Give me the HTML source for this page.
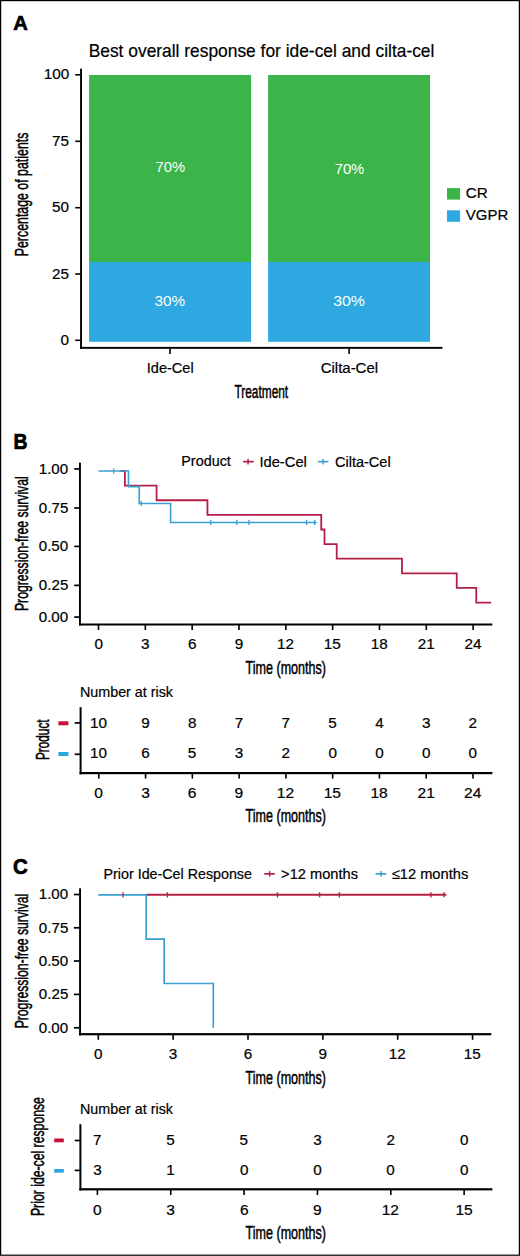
<!DOCTYPE html>
<html><head><meta charset="utf-8"><title>Figure</title><style>
html,body{margin:0;padding:0;background:#fff;width:520px;height:1256px;overflow:hidden}
svg{display:block}
text{font-family:"Liberation Sans",sans-serif}
</style></head><body>
<svg width="520" height="1256" viewBox="0 0 520 1256">
<rect x="0" y="0" width="520" height="1256" fill="#fff"/>
<rect x="0.6" y="0.6" width="518.8" height="1254.6" fill="none" stroke="#000" stroke-width="1.2"/>
<rect x="75.20" y="74.00" width="5.30" height="1.60" fill="#000"/>
<rect x="75.20" y="140.50" width="5.30" height="1.60" fill="#000"/>
<rect x="75.20" y="206.90" width="5.30" height="1.60" fill="#000"/>
<rect x="75.20" y="273.20" width="5.30" height="1.60" fill="#000"/>
<rect x="75.20" y="339.50" width="5.30" height="1.60" fill="#000"/>
<rect x="80.10" y="68.70" width="1.90" height="280.10" fill="#000"/>
<rect x="80.10" y="346.90" width="362.40" height="1.90" fill="#000"/>
<rect x="169.20" y="348.50" width="1.60" height="5.50" fill="#000"/>
<rect x="348.30" y="348.50" width="1.60" height="5.50" fill="#000"/>
<rect x="89.10" y="75.00" width="162.00" height="187.00" fill="#3BB54A"/>
<rect x="89.10" y="262.00" width="162.00" height="79.80" fill="#2DA8E0"/>
<rect x="268.10" y="75.00" width="161.90" height="187.00" fill="#3BB54A"/>
<rect x="268.10" y="262.00" width="161.90" height="79.80" fill="#2DA8E0"/>
<rect x="447.00" y="188.10" width="13.10" height="11.50" fill="#3BB54A"/>
<rect x="447.00" y="210.30" width="13.10" height="11.50" fill="#2DA8E0"/>
<rect x="243.10" y="460.80" width="10.60" height="1.70" fill="#B41F45"/>
<rect x="247.30" y="458.90" width="1.50" height="5.50" fill="#B41F45"/>
<rect x="317.80" y="460.80" width="10.60" height="1.70" fill="#3A9FD2"/>
<rect x="322.30" y="458.90" width="1.50" height="5.50" fill="#3A9FD2"/>
<rect x="74.20" y="468.05" width="5.30" height="1.70" fill="#000"/>
<rect x="74.20" y="507.15" width="5.30" height="1.70" fill="#000"/>
<rect x="74.20" y="545.55" width="5.30" height="1.70" fill="#000"/>
<rect x="74.20" y="584.55" width="5.30" height="1.70" fill="#000"/>
<rect x="74.20" y="616.25" width="5.30" height="1.70" fill="#000"/>
<rect x="79.00" y="462.60" width="1.90" height="162.90" fill="#000"/>
<rect x="79.00" y="623.50" width="413.30" height="2.00" fill="#000"/>
<rect x="97.70" y="625.00" width="1.60" height="5.00" fill="#000"/>
<rect x="144.53" y="625.00" width="1.60" height="5.00" fill="#000"/>
<rect x="191.36" y="625.00" width="1.60" height="5.00" fill="#000"/>
<rect x="238.19" y="625.00" width="1.60" height="5.00" fill="#000"/>
<rect x="285.02" y="625.00" width="1.60" height="5.00" fill="#000"/>
<rect x="331.85" y="625.00" width="1.60" height="5.00" fill="#000"/>
<rect x="378.68" y="625.00" width="1.60" height="5.00" fill="#000"/>
<rect x="425.51" y="625.00" width="1.60" height="5.00" fill="#000"/>
<rect x="472.34" y="625.00" width="1.60" height="5.00" fill="#000"/>
<path d="M120.35,471.00 H124.88 V485.62 H156.57 V500.24 H207.46 V514.86 H321.25 V529.48 H324.53 V544.10 H336.71 V558.72 H401.96 V573.34 H456.75 V587.96 H476.26 V602.58 H491.09" fill="none" stroke="#B41F45" stroke-width="1.8" />
<path d="M98.50,471.00 H128.47 V486.64 H139.24 V503.46 H170.62 V522.46 H316.57" fill="none" stroke="#3A9FD2" stroke-width="1.6" />
<rect x="112.99" y="468.40" width="1.30" height="5.20" fill="#3A9FD2"/>
<rect x="140.62" y="500.86" width="1.30" height="5.20" fill="#3A9FD2"/>
<rect x="210.09" y="519.86" width="1.30" height="5.20" fill="#3A9FD2"/>
<rect x="236.15" y="519.86" width="1.30" height="5.20" fill="#3A9FD2"/>
<rect x="248.33" y="519.86" width="1.30" height="5.20" fill="#3A9FD2"/>
<rect x="305.93" y="519.86" width="1.30" height="5.20" fill="#3A9FD2"/>
<rect x="314.05" y="519.86" width="1.30" height="5.20" fill="#3A9FD2"/>
<rect x="79.60" y="707.20" width="2.00" height="67.20" fill="#000"/>
<rect x="79.60" y="772.00" width="412.80" height="2.20" fill="#000"/>
<rect x="74.70" y="722.05" width="5.30" height="1.70" fill="#000"/>
<rect x="74.70" y="753.45" width="5.30" height="1.70" fill="#000"/>
<rect x="58.40" y="721.30" width="10.00" height="4.00" fill="#C8103C"/>
<rect x="58.40" y="752.00" width="10.00" height="4.00" fill="#2AA6DE"/>
<rect x="98.00" y="773.50" width="1.60" height="5.10" fill="#000"/>
<rect x="144.77" y="773.50" width="1.60" height="5.10" fill="#000"/>
<rect x="191.54" y="773.50" width="1.60" height="5.10" fill="#000"/>
<rect x="238.31" y="773.50" width="1.60" height="5.10" fill="#000"/>
<rect x="285.08" y="773.50" width="1.60" height="5.10" fill="#000"/>
<rect x="331.85" y="773.50" width="1.60" height="5.10" fill="#000"/>
<rect x="378.62" y="773.50" width="1.60" height="5.10" fill="#000"/>
<rect x="425.39" y="773.50" width="1.60" height="5.10" fill="#000"/>
<rect x="472.16" y="773.50" width="1.60" height="5.10" fill="#000"/>
<rect x="264.20" y="873.00" width="10.60" height="1.70" fill="#B41F45"/>
<rect x="268.90" y="871.10" width="1.50" height="5.50" fill="#B41F45"/>
<rect x="375.50" y="873.00" width="10.80" height="1.70" fill="#3A9FD2"/>
<rect x="380.30" y="871.10" width="1.50" height="5.50" fill="#3A9FD2"/>
<rect x="73.90" y="893.65" width="5.40" height="1.70" fill="#000"/>
<rect x="73.90" y="926.95" width="5.40" height="1.70" fill="#000"/>
<rect x="73.90" y="960.15" width="5.40" height="1.70" fill="#000"/>
<rect x="73.90" y="993.55" width="5.40" height="1.70" fill="#000"/>
<rect x="73.90" y="1026.95" width="5.40" height="1.70" fill="#000"/>
<rect x="79.10" y="888.30" width="1.90" height="147.10" fill="#000"/>
<rect x="79.10" y="1033.10" width="412.20" height="2.20" fill="#000"/>
<rect x="97.50" y="1035.00" width="1.60" height="4.80" fill="#000"/>
<rect x="172.35" y="1035.00" width="1.60" height="4.80" fill="#000"/>
<rect x="247.20" y="1035.00" width="1.60" height="4.80" fill="#000"/>
<rect x="322.05" y="1035.00" width="1.60" height="4.80" fill="#000"/>
<rect x="396.90" y="1035.00" width="1.60" height="4.80" fill="#000"/>
<rect x="471.75" y="1035.00" width="1.60" height="4.80" fill="#000"/>
<path d="M146.20,894.80 H446.35" fill="none" stroke="#B41F45" stroke-width="1.9" />
<path d="M98.30,894.80 H146.20 V939.09 H164.17 V983.51 H213.32 V1027.80" fill="none" stroke="#3A9FD2" stroke-width="1.7" />
<rect x="122.35" y="892.20" width="1.30" height="5.20" fill="#B41F45"/>
<rect x="166.76" y="892.20" width="1.30" height="5.20" fill="#B41F45"/>
<rect x="276.79" y="892.20" width="1.30" height="5.20" fill="#B41F45"/>
<rect x="318.96" y="892.20" width="1.30" height="5.20" fill="#B41F45"/>
<rect x="338.67" y="892.20" width="1.30" height="5.20" fill="#B41F45"/>
<rect x="430.23" y="892.20" width="1.30" height="5.20" fill="#B41F45"/>
<rect x="443.21" y="892.20" width="1.30" height="5.20" fill="#B41F45"/>
<rect x="79.40" y="1124.20" width="2.00" height="66.30" fill="#000"/>
<rect x="79.40" y="1188.20" width="413.00" height="2.20" fill="#000"/>
<rect x="74.70" y="1139.65" width="5.30" height="1.70" fill="#000"/>
<rect x="74.70" y="1169.55" width="5.30" height="1.70" fill="#000"/>
<rect x="54.20" y="1138.50" width="9.60" height="3.80" fill="#C8103C"/>
<rect x="54.20" y="1169.00" width="9.60" height="3.70" fill="#2AA6DE"/>
<rect x="96.60" y="1189.50" width="1.60" height="5.50" fill="#000"/>
<rect x="169.95" y="1189.50" width="1.60" height="5.50" fill="#000"/>
<rect x="243.30" y="1189.50" width="1.60" height="5.50" fill="#000"/>
<rect x="316.65" y="1189.50" width="1.60" height="5.50" fill="#000"/>
<rect x="390.00" y="1189.50" width="1.60" height="5.50" fill="#000"/>
<rect x="463.35" y="1189.50" width="1.60" height="5.50" fill="#000"/>
<text x="13.17" y="30.00" font-size="21.00" font-weight="bold" stroke="#000" stroke-width="0.7" fill="#000" textLength="14.56" lengthAdjust="spacingAndGlyphs">A</text>
<text x="88.70" y="57.00" font-size="18.50" stroke="#000" stroke-width="0.2" fill="#000" textLength="345.70" lengthAdjust="spacingAndGlyphs">Best overall response for ide-cel and cilta-cel</text>
<text x="60.58" y="345.00" font-size="14.70" stroke="#000" stroke-width="0.2" fill="#000" textLength="8.50" lengthAdjust="spacingAndGlyphs">0</text>
<text x="52.11" y="279.00" font-size="14.70" stroke="#000" stroke-width="0.2" fill="#000" textLength="17.00" lengthAdjust="spacingAndGlyphs">25</text>
<text x="52.08" y="212.00" font-size="14.70" stroke="#000" stroke-width="0.2" fill="#000" textLength="17.00" lengthAdjust="spacingAndGlyphs">50</text>
<text x="52.11" y="146.00" font-size="14.70" stroke="#000" stroke-width="0.2" fill="#000" textLength="17.00" lengthAdjust="spacingAndGlyphs">75</text>
<text x="43.81" y="79.00" font-size="14.70" stroke="#000" stroke-width="0.2" fill="#000" textLength="25.51" lengthAdjust="spacingAndGlyphs">100</text>
<text x="155.52" y="172.00" font-size="14.90" fill="#fff" textLength="29.61" lengthAdjust="spacingAndGlyphs">70%</text>
<text x="334.65" y="174.00" font-size="14.90" fill="#fff" textLength="29.66" lengthAdjust="spacingAndGlyphs">70%</text>
<text x="154.45" y="306.00" font-size="14.90" fill="#fff" textLength="30.66" lengthAdjust="spacingAndGlyphs">30%</text>
<text x="333.16" y="306.00" font-size="14.90" fill="#fff" textLength="31.83" lengthAdjust="spacingAndGlyphs">30%</text>
<text x="146.74" y="373.00" font-size="14.70" stroke="#000" stroke-width="0.2" fill="#000" textLength="46.96" lengthAdjust="spacingAndGlyphs">Ide-Cel</text>
<text x="320.66" y="373.00" font-size="14.70" stroke="#000" stroke-width="0.2" fill="#000" textLength="57.45" lengthAdjust="spacingAndGlyphs">Cilta-Cel</text>
<text x="234.46" y="398.00" font-size="18.00" stroke="#000" stroke-width="0.5" fill="#000" textLength="53.69" lengthAdjust="spacingAndGlyphs">Treatment</text>
<text x="465.80" y="198.00" font-size="14.70" stroke="#000" stroke-width="0.2" fill="#000" textLength="21.97" lengthAdjust="spacingAndGlyphs">CR</text>
<text x="465.70" y="220.00" font-size="14.70" stroke="#000" stroke-width="0.2" fill="#000" textLength="42.55" lengthAdjust="spacingAndGlyphs">VGPR</text>
<text transform="translate(28.00,256.26) rotate(-90)" x="0" y="0" font-size="18.50" stroke="#000" stroke-width="0.5" fill="#000" textLength="123.65" lengthAdjust="spacingAndGlyphs">Percentage of patients</text>
<text x="13.42" y="449.00" font-size="21.50" font-weight="bold" stroke="#000" stroke-width="0.7" fill="#000" textLength="14.01" lengthAdjust="spacingAndGlyphs">B</text>
<text x="181.28" y="466.00" font-size="14.70" stroke="#000" stroke-width="0.2" fill="#000" textLength="49.60" lengthAdjust="spacingAndGlyphs">Product</text>
<text x="259.41" y="467.00" font-size="14.70" stroke="#000" stroke-width="0.2" fill="#000" textLength="47.46" lengthAdjust="spacingAndGlyphs">Ide-Cel</text>
<text x="334.94" y="467.00" font-size="14.70" stroke="#000" stroke-width="0.2" fill="#000" textLength="55.75" lengthAdjust="spacingAndGlyphs">Cilta-Cel</text>
<text x="38.72" y="474.00" font-size="14.70" stroke="#000" stroke-width="0.2" fill="#000" textLength="29.47" lengthAdjust="spacingAndGlyphs">1.00</text>
<text x="38.85" y="513.00" font-size="14.70" stroke="#000" stroke-width="0.2" fill="#000" textLength="29.47" lengthAdjust="spacingAndGlyphs">0.75</text>
<text x="38.72" y="551.00" font-size="14.70" stroke="#000" stroke-width="0.2" fill="#000" textLength="29.47" lengthAdjust="spacingAndGlyphs">0.50</text>
<text x="38.85" y="590.00" font-size="14.70" stroke="#000" stroke-width="0.2" fill="#000" textLength="29.47" lengthAdjust="spacingAndGlyphs">0.25</text>
<text x="38.72" y="622.00" font-size="14.70" stroke="#000" stroke-width="0.2" fill="#000" textLength="29.47" lengthAdjust="spacingAndGlyphs">0.00</text>
<text x="94.46" y="649.00" font-size="14.40" stroke="#000" stroke-width="0.2" fill="#000" textLength="8.49" lengthAdjust="spacingAndGlyphs">0</text>
<text x="141.06" y="649.00" font-size="14.40" stroke="#000" stroke-width="0.2" fill="#000" textLength="8.49" lengthAdjust="spacingAndGlyphs">3</text>
<text x="188.01" y="649.00" font-size="14.40" stroke="#000" stroke-width="0.2" fill="#000" textLength="8.49" lengthAdjust="spacingAndGlyphs">6</text>
<text x="234.82" y="649.00" font-size="14.40" stroke="#000" stroke-width="0.2" fill="#000" textLength="8.49" lengthAdjust="spacingAndGlyphs">9</text>
<text x="277.13" y="649.00" font-size="14.40" stroke="#000" stroke-width="0.2" fill="#000" textLength="16.98" lengthAdjust="spacingAndGlyphs">12</text>
<text x="323.67" y="649.00" font-size="14.40" stroke="#000" stroke-width="0.2" fill="#000" textLength="16.98" lengthAdjust="spacingAndGlyphs">15</text>
<text x="370.71" y="649.00" font-size="14.40" stroke="#000" stroke-width="0.2" fill="#000" textLength="16.98" lengthAdjust="spacingAndGlyphs">18</text>
<text x="417.88" y="649.00" font-size="14.40" stroke="#000" stroke-width="0.2" fill="#000" textLength="16.98" lengthAdjust="spacingAndGlyphs">21</text>
<text x="464.55" y="649.00" font-size="14.40" stroke="#000" stroke-width="0.2" fill="#000" textLength="16.98" lengthAdjust="spacingAndGlyphs">24</text>
<text x="245.58" y="674.00" font-size="18.20" stroke="#000" stroke-width="0.5" fill="#000" textLength="80.36" lengthAdjust="spacingAndGlyphs">Time (months)</text>
<text transform="translate(28.00,611.03) rotate(-90)" x="0" y="0" font-size="18.50" stroke="#000" stroke-width="0.5" fill="#000" textLength="134.72" lengthAdjust="spacingAndGlyphs">Progression-free survival</text>
<text x="79.96" y="697.00" font-size="15.00" stroke="#000" stroke-width="0.2" fill="#000" textLength="93.08" lengthAdjust="spacingAndGlyphs">Number at risk</text>
<text transform="translate(49.00,760.08) rotate(-90)" x="0" y="0" font-size="18.40" stroke="#000" stroke-width="0.5" fill="#000" textLength="40.70" lengthAdjust="spacingAndGlyphs">Product</text>
<text x="94.28" y="798.00" font-size="14.40" stroke="#000" stroke-width="0.2" fill="#000" textLength="8.65" lengthAdjust="spacingAndGlyphs">0</text>
<text x="89.96" y="728.00" font-size="14.40" stroke="#000" stroke-width="0.2" fill="#000" textLength="16.98" lengthAdjust="spacingAndGlyphs">10</text>
<text x="89.96" y="758.00" font-size="14.40" stroke="#000" stroke-width="0.2" fill="#000" textLength="16.98" lengthAdjust="spacingAndGlyphs">10</text>
<text x="141.19" y="798.00" font-size="14.40" stroke="#000" stroke-width="0.2" fill="#000" textLength="8.65" lengthAdjust="spacingAndGlyphs">3</text>
<text x="141.33" y="728.00" font-size="14.40" stroke="#000" stroke-width="0.2" fill="#000" textLength="8.49" lengthAdjust="spacingAndGlyphs">9</text>
<text x="141.28" y="758.00" font-size="14.40" stroke="#000" stroke-width="0.2" fill="#000" textLength="8.49" lengthAdjust="spacingAndGlyphs">6</text>
<text x="187.89" y="798.00" font-size="14.40" stroke="#000" stroke-width="0.2" fill="#000" textLength="8.65" lengthAdjust="spacingAndGlyphs">6</text>
<text x="187.91" y="728.00" font-size="14.40" stroke="#000" stroke-width="0.2" fill="#000" textLength="8.49" lengthAdjust="spacingAndGlyphs">8</text>
<text x="187.88" y="758.00" font-size="14.40" stroke="#000" stroke-width="0.2" fill="#000" textLength="8.49" lengthAdjust="spacingAndGlyphs">5</text>
<text x="234.62" y="798.00" font-size="14.40" stroke="#000" stroke-width="0.2" fill="#000" textLength="8.65" lengthAdjust="spacingAndGlyphs">9</text>
<text x="234.82" y="728.00" font-size="14.40" stroke="#000" stroke-width="0.2" fill="#000" textLength="8.49" lengthAdjust="spacingAndGlyphs">7</text>
<text x="234.87" y="758.00" font-size="14.40" stroke="#000" stroke-width="0.2" fill="#000" textLength="8.49" lengthAdjust="spacingAndGlyphs">3</text>
<text x="276.80" y="798.00" font-size="14.40" stroke="#000" stroke-width="0.2" fill="#000" textLength="17.30" lengthAdjust="spacingAndGlyphs">12</text>
<text x="281.55" y="728.00" font-size="14.40" stroke="#000" stroke-width="0.2" fill="#000" textLength="8.49" lengthAdjust="spacingAndGlyphs">7</text>
<text x="281.58" y="758.00" font-size="14.40" stroke="#000" stroke-width="0.2" fill="#000" textLength="8.49" lengthAdjust="spacingAndGlyphs">2</text>
<text x="323.70" y="798.00" font-size="14.40" stroke="#000" stroke-width="0.2" fill="#000" textLength="17.30" lengthAdjust="spacingAndGlyphs">15</text>
<text x="328.29" y="728.00" font-size="14.40" stroke="#000" stroke-width="0.2" fill="#000" textLength="8.49" lengthAdjust="spacingAndGlyphs">5</text>
<text x="328.42" y="758.00" font-size="14.40" stroke="#000" stroke-width="0.2" fill="#000" textLength="8.49" lengthAdjust="spacingAndGlyphs">0</text>
<text x="370.45" y="798.00" font-size="14.40" stroke="#000" stroke-width="0.2" fill="#000" textLength="17.30" lengthAdjust="spacingAndGlyphs">18</text>
<text x="375.26" y="728.00" font-size="14.40" stroke="#000" stroke-width="0.2" fill="#000" textLength="8.49" lengthAdjust="spacingAndGlyphs">4</text>
<text x="375.26" y="758.00" font-size="14.40" stroke="#000" stroke-width="0.2" fill="#000" textLength="8.49" lengthAdjust="spacingAndGlyphs">0</text>
<text x="417.57" y="798.00" font-size="14.40" stroke="#000" stroke-width="0.2" fill="#000" textLength="17.30" lengthAdjust="spacingAndGlyphs">21</text>
<text x="422.04" y="728.00" font-size="14.40" stroke="#000" stroke-width="0.2" fill="#000" textLength="8.49" lengthAdjust="spacingAndGlyphs">3</text>
<text x="421.90" y="758.00" font-size="14.40" stroke="#000" stroke-width="0.2" fill="#000" textLength="8.49" lengthAdjust="spacingAndGlyphs">0</text>
<text x="464.11" y="798.00" font-size="14.40" stroke="#000" stroke-width="0.2" fill="#000" textLength="17.30" lengthAdjust="spacingAndGlyphs">24</text>
<text x="468.62" y="728.00" font-size="14.40" stroke="#000" stroke-width="0.2" fill="#000" textLength="8.49" lengthAdjust="spacingAndGlyphs">2</text>
<text x="468.64" y="758.00" font-size="14.40" stroke="#000" stroke-width="0.2" fill="#000" textLength="8.49" lengthAdjust="spacingAndGlyphs">0</text>
<text x="245.58" y="822.00" font-size="18.20" stroke="#000" stroke-width="0.5" fill="#000" textLength="80.36" lengthAdjust="spacingAndGlyphs">Time (months)</text>
<text x="13.04" y="874.00" font-size="21.80" font-weight="bold" stroke="#000" stroke-width="0.7" fill="#000" textLength="14.73" lengthAdjust="spacingAndGlyphs">C</text>
<text x="103.59" y="879.00" font-size="14.70" stroke="#000" stroke-width="0.2" fill="#000" textLength="148.33" lengthAdjust="spacingAndGlyphs">Prior Ide-Cel Response</text>
<text x="281.10" y="879.00" font-size="14.70" stroke="#000" stroke-width="0.2" fill="#000" textLength="76.95" lengthAdjust="spacingAndGlyphs">&gt;12 months</text>
<text x="391.71" y="879.00" font-size="14.70" stroke="#000" stroke-width="0.2" fill="#000" textLength="76.55" lengthAdjust="spacingAndGlyphs">≤12 months</text>
<text x="38.72" y="899.00" font-size="14.70" stroke="#000" stroke-width="0.2" fill="#000" textLength="29.47" lengthAdjust="spacingAndGlyphs">1.00</text>
<text x="38.85" y="933.00" font-size="14.70" stroke="#000" stroke-width="0.2" fill="#000" textLength="29.47" lengthAdjust="spacingAndGlyphs">0.75</text>
<text x="38.72" y="966.00" font-size="14.70" stroke="#000" stroke-width="0.2" fill="#000" textLength="29.47" lengthAdjust="spacingAndGlyphs">0.50</text>
<text x="38.85" y="999.00" font-size="14.70" stroke="#000" stroke-width="0.2" fill="#000" textLength="29.47" lengthAdjust="spacingAndGlyphs">0.25</text>
<text x="38.72" y="1033.00" font-size="14.70" stroke="#000" stroke-width="0.2" fill="#000" textLength="29.47" lengthAdjust="spacingAndGlyphs">0.00</text>
<text x="94.04" y="1059.00" font-size="14.40" stroke="#000" stroke-width="0.2" fill="#000" textLength="8.49" lengthAdjust="spacingAndGlyphs">0</text>
<text x="168.72" y="1059.00" font-size="14.40" stroke="#000" stroke-width="0.2" fill="#000" textLength="8.49" lengthAdjust="spacingAndGlyphs">3</text>
<text x="243.77" y="1059.00" font-size="14.40" stroke="#000" stroke-width="0.2" fill="#000" textLength="8.49" lengthAdjust="spacingAndGlyphs">6</text>
<text x="318.61" y="1059.00" font-size="14.40" stroke="#000" stroke-width="0.2" fill="#000" textLength="8.49" lengthAdjust="spacingAndGlyphs">9</text>
<text x="388.89" y="1059.00" font-size="14.40" stroke="#000" stroke-width="0.2" fill="#000" textLength="16.98" lengthAdjust="spacingAndGlyphs">12</text>
<text x="463.83" y="1059.00" font-size="14.40" stroke="#000" stroke-width="0.2" fill="#000" textLength="16.98" lengthAdjust="spacingAndGlyphs">15</text>
<text x="245.58" y="1084.00" font-size="18.20" stroke="#000" stroke-width="0.5" fill="#000" textLength="80.36" lengthAdjust="spacingAndGlyphs">Time (months)</text>
<text transform="translate(28.00,1028.32) rotate(-90)" x="0" y="0" font-size="18.50" stroke="#000" stroke-width="0.5" fill="#000" textLength="134.58" lengthAdjust="spacingAndGlyphs">Progression-free survival</text>
<text x="79.96" y="1114.00" font-size="15.00" stroke="#000" stroke-width="0.2" fill="#000" textLength="93.08" lengthAdjust="spacingAndGlyphs">Number at risk</text>
<text transform="translate(44.00,1216.03) rotate(-90)" x="0" y="0" font-size="18.20" stroke="#000" stroke-width="0.5" fill="#000" textLength="118.92" lengthAdjust="spacingAndGlyphs">Prior ide-cel response</text>
<text x="92.90" y="1215.00" font-size="14.40" stroke="#000" stroke-width="0.2" fill="#000" textLength="8.65" lengthAdjust="spacingAndGlyphs">0</text>
<text x="93.07" y="1145.00" font-size="14.40" stroke="#000" stroke-width="0.2" fill="#000" textLength="8.49" lengthAdjust="spacingAndGlyphs">7</text>
<text x="93.16" y="1175.00" font-size="14.40" stroke="#000" stroke-width="0.2" fill="#000" textLength="8.49" lengthAdjust="spacingAndGlyphs">3</text>
<text x="166.24" y="1215.00" font-size="14.40" stroke="#000" stroke-width="0.2" fill="#000" textLength="8.65" lengthAdjust="spacingAndGlyphs">3</text>
<text x="166.19" y="1145.00" font-size="14.40" stroke="#000" stroke-width="0.2" fill="#000" textLength="8.49" lengthAdjust="spacingAndGlyphs">5</text>
<text x="166.24" y="1175.00" font-size="14.40" stroke="#000" stroke-width="0.2" fill="#000" textLength="8.49" lengthAdjust="spacingAndGlyphs">1</text>
<text x="239.94" y="1215.00" font-size="14.40" stroke="#000" stroke-width="0.2" fill="#000" textLength="8.65" lengthAdjust="spacingAndGlyphs">6</text>
<text x="239.48" y="1145.00" font-size="14.40" stroke="#000" stroke-width="0.2" fill="#000" textLength="8.49" lengthAdjust="spacingAndGlyphs">5</text>
<text x="239.98" y="1175.00" font-size="14.40" stroke="#000" stroke-width="0.2" fill="#000" textLength="8.49" lengthAdjust="spacingAndGlyphs">0</text>
<text x="313.06" y="1215.00" font-size="14.40" stroke="#000" stroke-width="0.2" fill="#000" textLength="8.65" lengthAdjust="spacingAndGlyphs">9</text>
<text x="313.23" y="1145.00" font-size="14.40" stroke="#000" stroke-width="0.2" fill="#000" textLength="8.49" lengthAdjust="spacingAndGlyphs">3</text>
<text x="313.30" y="1175.00" font-size="14.40" stroke="#000" stroke-width="0.2" fill="#000" textLength="8.49" lengthAdjust="spacingAndGlyphs">0</text>
<text x="381.73" y="1215.00" font-size="14.40" stroke="#000" stroke-width="0.2" fill="#000" textLength="17.30" lengthAdjust="spacingAndGlyphs">12</text>
<text x="386.48" y="1145.00" font-size="14.40" stroke="#000" stroke-width="0.2" fill="#000" textLength="8.49" lengthAdjust="spacingAndGlyphs">2</text>
<text x="386.29" y="1175.00" font-size="14.40" stroke="#000" stroke-width="0.2" fill="#000" textLength="8.49" lengthAdjust="spacingAndGlyphs">0</text>
<text x="455.42" y="1215.00" font-size="14.40" stroke="#000" stroke-width="0.2" fill="#000" textLength="17.30" lengthAdjust="spacingAndGlyphs">15</text>
<text x="459.96" y="1145.00" font-size="14.40" stroke="#000" stroke-width="0.2" fill="#000" textLength="8.49" lengthAdjust="spacingAndGlyphs">0</text>
<text x="459.96" y="1175.00" font-size="14.40" stroke="#000" stroke-width="0.2" fill="#000" textLength="8.49" lengthAdjust="spacingAndGlyphs">0</text>
<text x="245.58" y="1239.00" font-size="18.20" stroke="#000" stroke-width="0.5" fill="#000" textLength="80.36" lengthAdjust="spacingAndGlyphs">Time (months)</text>
</svg>
</body></html>
